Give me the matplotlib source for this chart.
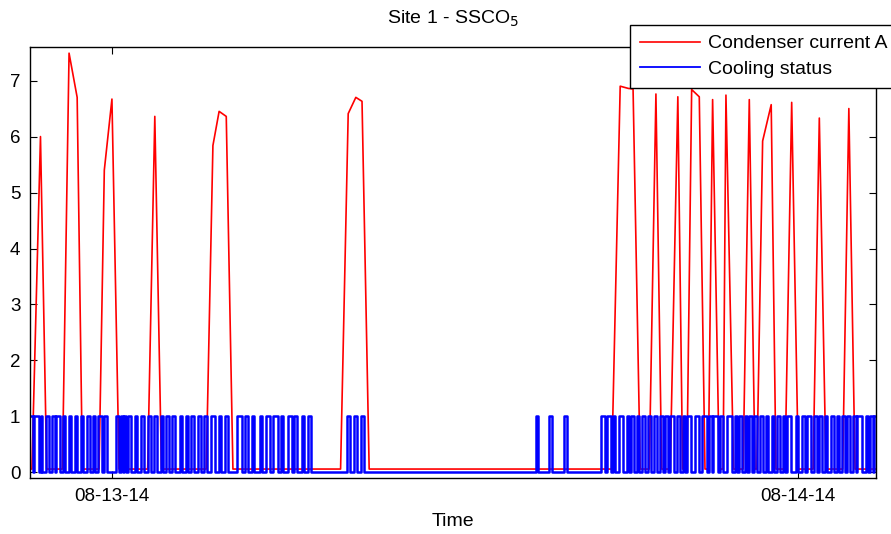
import matplotlib
matplotlib.use("Agg")
import matplotlib.pyplot as plt
import matplotlib.dates as mdates
from datetime import datetime, timedelta

plt.rcParams["font.family"] = ["Liberation Sans", "DejaVu Sans"]
plt.rcParams["font.size"] = 14

# minutes since 2014-08-12 21:00
log_start = datetime(2014, 8, 12, 21, 0)
log_begin_min = 8
log_end_min = 1784

# condenser current (A): sampled points, baseline ~0.06 A between cycles
current_min = [8, 12, 30, 43,
               76, 90, 107, 118,
               153, 164, 180, 195,
               255, 270, 284,
               378, 392, 405, 420, 434,
               660, 676, 692, 705, 720,
               1229, 1247, 1264, 1274, 1289,
               1308, 1322, 1334,
               1352, 1368, 1378,
               1387, 1397, 1413, 1425,
               1432, 1441, 1455,
               1463, 1469, 1485,
               1505, 1518, 1530,
               1534, 1546, 1564, 1574,
               1593, 1607, 1621,
               1652, 1665, 1679,
               1714, 1727, 1740,
               1784]
current_amp = [0.06, 0.06, 6.0, 0.06,
               0.06, 7.49, 6.70, 0.06,
               0.06, 5.40, 6.67, 0.06,
               0.06, 6.36, 0.06,
               0.06, 5.84, 6.45, 6.36, 0.06,
               0.06, 6.41, 6.70, 6.63, 0.06,
               0.06, 6.90, 6.86, 6.85, 0.06,
               0.06, 6.76, 0.06,
               0.06, 6.71, 0.06,
               0.06, 6.84, 6.71, 0.06,
               0.06, 6.66, 0.06,
               0.06, 6.74, 0.06,
               0.06, 6.66, 0.06,
               0.06, 5.92, 6.57, 0.06,
               0.06, 6.61, 0.06,
               0.06, 6.33, 0.06,
               0.06, 6.50, 0.06,
               0.06]

# cooling status: on / off switch times (minutes)
cooling_on = [8, 16, 31, 42, 54, 63, 77, 89, 102, 116, 128, 140, 151, 163,
              189, 200, 206, 214, 228, 242, 256, 268, 282, 294, 307, 322,
              335, 347, 361, 373, 389, 404, 417, 443, 460, 473, 490, 504,
              518, 534, 550, 562, 579, 592,
              673, 688, 702, 1070, 1098, 1130,
              1206, 1219, 1232, 1245, 1261, 1269, 1282, 1292, 1306, 1317,
              1331, 1341, 1352, 1367, 1379, 1388, 1404, 1418, 1434, 1442,
              1457, 1471, 1488, 1497, 1509, 1518, 1528, 1541, 1553, 1565,
              1577, 1588, 1598, 1616, 1628, 1640, 1654, 1665, 1677, 1689,
              1702, 1712, 1724, 1735, 1744, 1764, 1771, 1779]
cooling_off = [14, 26, 34, 47, 60, 70, 82, 95, 107, 120, 133, 144, 159, 169,
               194, 203, 210, 219, 233, 247, 261, 274, 288, 300, 312, 327,
               340, 352, 366, 379, 396, 410, 424, 452, 466, 478, 496, 511,
               529, 539, 557, 569, 583, 597,
               680, 695, 709, 1075, 1103, 1135,
               1215, 1227, 1236, 1253, 1266, 1276, 1287, 1299, 1311, 1324,
               1337, 1348, 1359, 1373, 1383, 1395, 1413, 1429, 1439, 1453,
               1463, 1481, 1493, 1502, 1514, 1523, 1534, 1547, 1558, 1570,
               1583, 1593, 1605, 1621, 1635, 1647, 1660, 1670, 1682, 1695,
               1707, 1719, 1730, 1741, 1754, 1768, 1777, 1784]


def to_time(minutes):
    return [log_start + timedelta(minutes=m) for m in minutes]


# build the step series for the cooling status
status_min = []
status_val = []
for on, off in zip(cooling_on, cooling_off):
    status_min += [on, off]
    status_val += [1, 0]
status_val[-1] = 1

fig = plt.figure(figsize=(8.91, 5.34), dpi=100)
ax = fig.add_axes([30 / 891, 1 - 478 / 534, 846 / 891, 431 / 534])

ax.plot(to_time(current_min), current_amp, color="#ff0000", lw=1.2,
        label="Condenser current A")
ax.plot(to_time(status_min), status_val, color="#0000ff", lw=1.8,
        drawstyle="steps-post", label="Cooling status")

ax.set_xlim(to_time([log_begin_min, log_end_min]))
ax.set_ylim(-0.1, 7.6)
ax.set_yticks(range(0, 8))
ax.xaxis.set_major_locator(mdates.DayLocator())
ax.xaxis.set_major_formatter(mdates.DateFormatter("%m-%d-%y"))
ax.tick_params(direction="in", top=True, right=True, length=5, width=0.8,
               labelsize=13.5, pad=7)
for sp in ax.spines.values():
    sp.set_linewidth(1.0)

ax.set_title("Site 1 - SSCO$_5$", fontsize=14, pad=17)
ax.set_xlabel("Time", fontsize=14, labelpad=6)

leg = ax.legend(loc="upper left", bbox_to_anchor=(630 / 891, 1 - 25 / 534),
                bbox_transform=fig.transFigure, frameon=True, fancybox=False,
                edgecolor="black", framealpha=1, borderaxespad=0,
                borderpad=0.5, handlelength=3.1, handletextpad=0.4,
                labelspacing=0.42, fontsize=14)
leg.get_frame().set_linewidth(1.0)
leg.get_lines()[1].set_linewidth(1.3)

fig.savefig("out.png", dpi=100)
